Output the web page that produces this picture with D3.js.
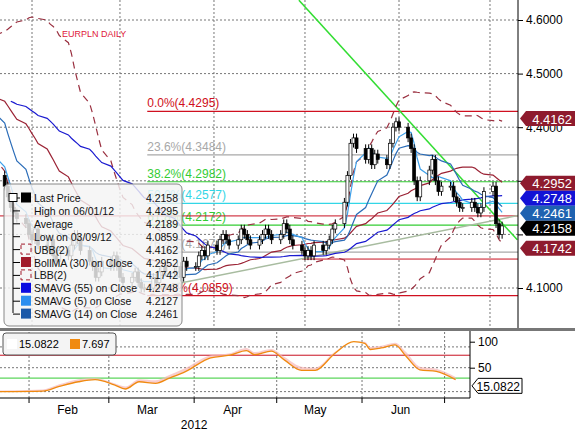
<!DOCTYPE html>
<html>
<head>
<meta charset="utf-8">
<script src="https://cdn.jsdelivr.net/npm/d3@7"></script>
<style>
body { margin: 0; background: #fff; }
svg { font-family: "Liberation Sans", Arial, sans-serif; }
</style>
</head>
<body>
<svg id="chart" width="575" height="434"></svg>
<script>
// closes before the visible window (only used to warm up the averages)
var preCloses = [4.38,4.40,4.45,4.43,4.41, 4.42,4.44,4.46,4.48,4.47, 4.50,4.53,4.55,4.52,4.48,
  4.47,4.45,4.44,4.47,4.49, 4.48,4.47,4.50,4.52,4.51, 4.49,4.48,4.47,4.46,4.48,
  4.47,4.47,4.48,4.49,4.46, 4.47,4.48,4.49,4.52,4.54, 4.50,4.48,4.46,4.44,4.45,
  4.43,4.40,4.38,4.36,4.34, 4.33,4.31];
// daily closes from Jan 23 2012 (weekdays)
var closes = [4.29,4.27,4.25,4.24,4.23, 4.22,4.20,4.19,4.21,4.18, 4.17,4.19,4.16,4.15,4.17,
  4.16,4.18,4.20,4.19,4.17, 4.15,4.14,4.12,4.13,4.15, 4.14,4.16,4.14,4.12,4.11,
  4.12,4.13,4.11,4.10,4.10, 4.12,4.11,4.13,4.14,4.13, 4.13,4.14,4.12,4.15,4.14,
  4.14,4.16,4.17,4.16,4.18, 4.17,4.19,4.20,4.19,4.18, 4.19,4.21,4.20,4.19,4.18,
  4.19,4.20,4.21,4.20,4.19, 4.20,4.22,4.21,4.19,4.18, 4.17,4.16,4.17,4.16,4.18,
  4.17,4.18,4.19,4.21,4.22, 4.26,4.31,4.37,4.38,4.36, 4.34,4.36,4.33,4.35,4.34,
  4.33,4.37,4.40,4.41,4.40, 4.38,4.36,4.30,4.27,4.30, 4.32,4.34,4.30,4.28,4.29,
  4.29,4.27,4.26,4.25,4.25, 4.26,4.25,4.24,4.25,4.28, 4.29,4.22,4.20,4.2158];
var wick = 0.008;

// stochastic readings (date, value)
var stochDates = ["2012-01-21","2012-02-06","2012-02-12","2012-02-19","2012-02-25","2012-03-03","2012-03-07",
  "2012-03-12","2012-03-18","2012-03-23","2012-03-29","2012-04-07","2012-04-14","2012-04-20","2012-04-23",
  "2012-04-29","2012-05-04","2012-05-10","2012-05-15","2012-05-22","2012-05-29","2012-06-02","2012-06-04",
  "2012-06-08","2012-06-13","2012-06-17","2012-06-22","2012-06-28","2012-07-05"];
var stochValues = [4,5,14,23,27,17,9, 23,20,30,43,69,74,83,75, 82,64,45,45,77,100,97,85, 88,94,72,46,43,27];
var stochGrey = [6,8,18,28,30,20,14, 28,26,36,50,74,78,88,80, 86,70,52,50,80,100,100,90, 92,98,80,52,48,32];

var fibLevels = [4.4295, 4.3484, 4.2982, 4.2577, 4.2172, 4.1670, 4.0859];
var fibNames = ["0.0%", "23.6%", "38.2%", "50.0%", "61.8%", "76.4%", "100.0%"];
var fibColors = ["#d01020", "#a8a8a8", "#33cc33", "#33d6e6", "#33cc33", "#a8a8a8", "#d01020"];

var priceTicks = [4.1, 4.2, 4.3, 4.4, 4.5, 4.6];
var tagValues = [4.4162, 4.2952, 4.2748, 4.2461, 4.2158, 4.1742];
var tagColors = ["#8e1b2e", "#8e1b2e", "#1212d6", "#1f62b0", "#000000", "#8e1b2e"];

var legendNames = ["Last Price", "High on 06/01/12", "Average", "Low on 03/09/12", "UBB(2)",
  "BollMA (30) on Close", "LBB(2)", "SMAVG (55) on Close", "SMAVG (5) on Close", "SMAVG (14) on Close"];
var legendValues = ["4.2158", "4.4295", "4.2189", "4.0859", "4.4162", "4.2952", "4.1742", "4.2748", "4.2127", "4.2461"];
var monthNames = ["Feb", "Mar", "Apr", "May", "Jun"];

// dates
function weekdaysFrom(start, n) {
  var out = [], d = new Date(start);
  while (out.length < n) { if (d.getDay() % 6 != 0) out.push(new Date(d)); d.setDate(d.getDate() + 1); }
  return out;
}
function weekdaysBack(end, n) {
  var out = [], d = new Date(end);
  while (out.length < n) { if (d.getDay() % 6 != 0) out.unshift(new Date(d)); d.setDate(d.getDate() - 1); }
  return out;
}
var dates = weekdaysFrom(new Date(2012, 0, 23), closes.length);
var allDates = weekdaysBack(new Date(2012, 0, 20), preCloses.length).concat(dates);
var allCloses = preCloses.concat(closes);

var candles = closes.map(function(c, i) {
  var o = i == 0 ? preCloses[preCloses.length - 1] : closes[i - 1];
  return { date: dates[i], open: o, close: c, high: Math.max(o, c) + wick, low: Math.min(o, c) - wick };
});

function sma(n) {
  var out = [];
  for (var i = n - 1; i < allCloses.length; i++) {
    var s = d3.mean(allCloses.slice(i - n + 1, i + 1));
    out.push({ date: allDates[i], value: s, sd: d3.deviation(allCloses.slice(i - n + 1, i + 1)) });
  }
  return out;
}

var svg = d3.select("#chart");
var plotRight = 518, lowRight = 470;

var x = d3.scaleTime().domain([new Date(2012, 1, 1), new Date(2012, 5, 1)]).range([32, 399]);
var x2 = x.copy().range([32 * lowRight / plotRight, 399 * lowRight / plotRight]);
var y = d3.scaleLinear().domain([4.1, 4.6]).range([288, 20]);
var y2 = d3.scaleLinear().domain([0, 100]).range([393.7, 341.7]);

svg.append("clipPath").attr("id", "main").append("rect").attr("width", plotRight).attr("height", 328);
svg.append("clipPath").attr("id", "low").append("rect").attr("y", 332).attr("width", lowRight).attr("height", 66);

var g = svg.append("g").attr("clip-path", "url(#main)");

// grid
var months = [1, 2, 3, 4, 5, 6].map(function(m) { return new Date(2012, m, 1); });
g.selectAll(".vg").data(months).enter().append("line")
  .attr("x1", function(d) { return x(d); }).attr("x2", function(d) { return x(d); })
  .attr("y1", 0).attr("y2", 328).attr("stroke", "#777").attr("stroke-dasharray", "2,2");
g.selectAll(".hg").data(priceTicks).enter().append("line")
  .attr("x1", 0).attr("x2", plotRight).attr("y1", function(d) { return y(d); }).attr("y2", function(d) { return y(d); })
  .attr("stroke", "#777").attr("stroke-dasharray", "2,2");

// fibonacci lines
var fibStart = new Date(2012, 2, 10);
g.selectAll(".fib").data(fibLevels).enter().append("line")
  .attr("x1", x(fibStart)).attr("x2", plotRight)
  .attr("y1", function(d) { return y(d); }).attr("y2", function(d) { return y(d); })
  .attr("stroke", function(d, i) { return fibColors[i]; }).attr("stroke-width", 1.2);
g.selectAll(".fibt").data(fibLevels).enter().append("text")
  .attr("x", x(fibStart)).attr("y", function(d) { return y(d) - 4; })
  .attr("font-size", 12).attr("fill", function(d, i) { return fibColors[i]; })
  .text(function(d, i) { return fibNames[i] + "(" + d.toFixed(4) + ")"; });

// extra support lines
g.append("line").attr("x1", 0).attr("x2", plotRight).attr("y1", y(4.2345)).attr("y2", y(4.2345)).attr("stroke", "#c81020");
g.append("line").attr("x1", x(new Date(2012, 3, 30))).attr("x2", plotRight).attr("y1", y(4.154)).attr("y2", y(4.154)).attr("stroke", "#c81020");

// trend lines
var trendA = [{ date: new Date(2012, 2, 11), value: 4.098 }, { date: new Date(2012, 6, 11), value: 4.236 }];
var trendB = [{ date: new Date(2012, 3, 29), value: 4.637 }, { date: new Date(2012, 6, 10), value: 4.19 }];
var tl = d3.line().x(function(d) { return x(d.date); }).y(function(d) { return y(d.value); });
g.append("path").datum(trendA).attr("d", tl).attr("stroke", "#a8bca0").attr("stroke-width", 1.5).attr("fill", "none");
g.append("path").datum(trendB).attr("d", tl).attr("stroke", "#33dd33").attr("stroke-width", 1.5).attr("fill", "none");

// bollinger + moving averages
var bb = sma(30), m55 = sma(55), m5 = sma(5), m14 = sma(14);
var line = d3.line().x(function(d) { return x(d.date); }).y(function(d) { return y(d.value); });
g.append("path").datum(bb).attr("d", d3.line().x(function(d) { return x(d.date); }).y(function(d) { return y(d.value + 2 * d.sd); }))
  .attr("fill", "none").attr("stroke", "#9a3040").attr("stroke-width", 1.2).attr("stroke-dasharray", "7,5");
g.append("path").datum(bb).attr("d", d3.line().x(function(d) { return x(d.date); }).y(function(d) { return y(d.value - 2 * d.sd); }))
  .attr("fill", "none").attr("stroke", "#9a3040").attr("stroke-width", 1.2).attr("stroke-dasharray", "7,5");
g.append("path").datum(bb).attr("d", line).attr("fill", "none").attr("stroke", "#9b2335").attr("stroke-width", 1.2);
g.append("path").datum(m55).attr("d", line).attr("fill", "none").attr("stroke", "#1a1ad0").attr("stroke-width", 1.2);
g.append("path").datum(m14).attr("d", line).attr("fill", "none").attr("stroke", "#2a6cb8").attr("stroke-width", 1.2);
g.append("path").datum(m5).attr("d", line).attr("fill", "none").attr("stroke", "#3ea0ea").attr("stroke-width", 1.2);

// candles
var cg = g.selectAll(".c").data(candles).enter().append("g");
cg.append("line").attr("x1", function(d) { return x(d.date); }).attr("x2", function(d) { return x(d.date); })
  .attr("y1", function(d) { return y(d.high); }).attr("y2", function(d) { return y(d.low); }).attr("stroke", "#000");
cg.append("rect").attr("x", function(d) { return x(d.date) - 1.5; }).attr("width", 3)
  .attr("y", function(d) { return y(Math.max(d.open, d.close)); })
  .attr("height", function(d) { return Math.max(1, Math.abs(y(d.open) - y(d.close))); })
  .attr("fill", function(d) { return d.close >= d.open ? "#fff" : "#000"; }).attr("stroke", "#000").attr("stroke-width", 0.7);

g.append("text").attr("x", 62).attr("y", 37).attr("font-size", 9).attr("fill", "#e0203a").text("EURPLN DAILY");

// right axis (levels hidden under the value tags are left out)
svg.append("line").attr("x1", plotRight).attr("x2", plotRight).attr("y1", 0).attr("y2", 328).attr("stroke", "#000");
var ra = svg.append("g").attr("transform", "translate(" + plotRight + ",0)")
  .call(d3.axisRight(y).tickValues(priceTicks).tickFormat(function(d) { return d > 4.15 && d < 4.35 ? "" : d3.format(".4f")(d); }).tickSize(5));
ra.select(".domain").remove();
ra.selectAll("text").attr("font-size", 12).attr("font-family", "Liberation Sans");

// value tags
var tagY = tagValues.map(function(v) { return y(v); }), prev = -99;
tagY = tagY.map(function(v) { v = Math.max(v, prev + 15); prev = v; return v; });
var tg = svg.selectAll(".tag").data(tagValues).enter().append("g")
  .attr("transform", function(d, i) { return "translate(" + (plotRight + 2) + "," + tagY[i] + ")"; });
tg.append("path").attr("d", "M0,0 L6,-7.5 L55,-7.5 L55,7.5 L6,7.5 Z").attr("fill", function(d, i) { return tagColors[i]; });
tg.append("text").attr("x", 52).attr("y", 5).attr("text-anchor", "end").attr("font-size", 13).attr("fill", "#fff")
  .text(function(d) { return d.toFixed(4); });

// legend
var lg = svg.append("g").attr("transform", "translate(4,184)");
lg.append("rect").attr("width", 178).attr("height", 142).attr("rx", 5)
  .attr("fill", "#f4f4f4").attr("fill-opacity", 0.82).attr("stroke", "#888");
lg.append("line").attr("x1", 9).attr("x2", 9).attr("y1", 18).attr("y2", 129).attr("stroke", "#000");
var swatchColors = ["#000", null, null, null, "dash", "#a01a2a", "dash", "#0a0ae0", "#2a8ef0", "#1a58a8"];
var rows = lg.selectAll(".row").data(legendNames).enter().append("g")
  .attr("transform", function(d, i) { return "translate(0," + (14 + i * 12.9) + ")"; });
rows.append("line").attr("x1", 9).attr("x2", 16).attr("y1", 0).attr("y2", 0).attr("stroke", "#000");
rows.append("rect").attr("x", 17).attr("y", -5.5).attr("width", 10).attr("height", 10)
  .attr("fill", function(d, i) { var c = swatchColors[i]; return c && c != "dash" ? c : "none"; })
  .attr("stroke", function(d, i) { return swatchColors[i] == "dash" ? "#a01a2a" : "none"; })
  .attr("stroke-dasharray", "4,3");
rows.append("text").attr("x", 30).attr("y", 4).attr("font-size", 10.5).attr("fill", "#111").text(function(d) { return d; });
rows.append("text").attr("x", 174).attr("y", 4).attr("font-size", 10.5).attr("text-anchor", "end").attr("fill", "#111")
  .text(function(d, i) { return legendValues[i]; });
lg.append("rect").attr("x", 5).attr("y", 9.5).attr("width", 8).attr("height", 8).attr("fill", "#fff").attr("stroke", "#000");

// divider
svg.append("rect").attr("x", 0).attr("y", 328).attr("width", 575).attr("height", 3).attr("fill", "#777");

// lower panel
var lw = svg.append("g").attr("clip-path", "url(#low)");
lw.selectAll(".vg2").data(months).enter().append("line")
  .attr("x1", function(d) { return x2(d); }).attr("x2", function(d) { return x2(d); })
  .attr("y1", 332).attr("y2", 398).attr("stroke", "#777").attr("stroke-dasharray", "2,2");
lw.selectAll(".hg2").data([90, 50, 4]).enter().append("line")
  .attr("x1", 0).attr("x2", lowRight).attr("y1", function(d) { return y2(d); }).attr("y2", function(d) { return y2(d); })
  .attr("stroke", "#777").attr("stroke-dasharray", "2,2");
lw.append("line").attr("x1", 0).attr("x2", lowRight).attr("y1", y2(74)).attr("y2", y2(74)).attr("stroke", "#c81020");
lw.append("line").attr("x1", 0).attr("x2", lowRight).attr("y1", y2(30)).attr("y2", y2(30)).attr("stroke", "#33cc33");
var st = stochDates.map(function(d, i) { return { date: d3.timeParse("%Y-%m-%d")(d), value: stochValues[i], grey: stochGrey[i] }; });
lw.append("path").datum(st).attr("fill", "#f6b8b8").attr("fill-opacity", 0.7)
  .attr("d", d3.area().x(function(d) { return x2(d.date); }).y0(function(d) { return y2(d.grey); }).y1(function(d) { return y2(d.value); }).curve(d3.curveMonotoneX));
lw.append("path").datum(st).attr("fill", "none").attr("stroke", "#f08a10").attr("stroke-width", 1.3)
  .attr("d", d3.line().x(function(d) { return x2(d.date); }).y(function(d) { return y2(d.value); }).curve(d3.curveMonotoneX));

svg.append("line").attr("x1", lowRight).attr("x2", lowRight).attr("y1", 331).attr("y2", 398).attr("stroke", "#000");
var ra2 = svg.append("g").attr("transform", "translate(" + lowRight + ",0)")
  .call(d3.axisRight(y2).tickValues([50, 100]).tickSize(5));
ra2.select(".domain").remove();
ra2.selectAll("text").attr("font-size", 12);

var lt = svg.append("g").attr("transform", "translate(" + (lowRight + 2) + "," + y2(15.08) + ")");
lt.append("path").attr("d", "M0,0 L6,-7.5 L50,-7.5 L50,7.5 L6,7.5 Z").attr("fill", "#fff").attr("stroke", "#000");
lt.append("text").attr("x", 48).attr("y", 5).attr("text-anchor", "end").attr("font-size", 12).text("15.0822");

var ll = svg.append("g").attr("transform", "translate(3,333)");
ll.append("rect").attr("width", 113).attr("height", 22).attr("rx", 3).attr("fill", "#f4f4f4").attr("stroke", "#555");
ll.append("rect").attr("x", 4).attr("y", 6).attr("width", 10).attr("height", 10).attr("fill", "#fff");
ll.append("text").attr("x", 16).attr("y", 15).attr("font-size", 11).text("15.0822");
ll.append("rect").attr("x", 67).attr("y", 6).attr("width", 10).attr("height", 10).attr("fill", "#f08a10");
ll.append("text").attr("x", 79).attr("y", 15).attr("font-size", 11).text("7.697");

// bottom axis
svg.append("line").attr("x1", 0).attr("x2", lowRight).attr("y1", 398).attr("y2", 398).attr("stroke", "#000");
svg.selectAll(".mt").data(months).enter().append("line")
  .attr("x1", function(d) { return x2(d); }).attr("x2", function(d) { return x2(d); })
  .attr("y1", 398).attr("y2", 403).attr("stroke", "#000");
svg.selectAll(".ml").data(monthNames).enter().append("text")
  .attr("x", function(d, i) { return x2(new Date(2012, i + 1, 15)); }).attr("y", 414)
  .attr("text-anchor", "middle").attr("font-size", 12).text(function(d) { return d; });
svg.append("text").attr("x", x2(new Date(2012, 3, 1))).attr("y", 429).attr("text-anchor", "middle").attr("font-size", 12).text("2012");
</script>
</body>
</html>
